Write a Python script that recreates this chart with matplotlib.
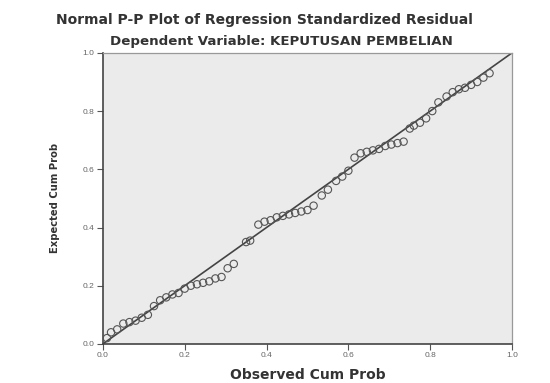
import matplotlib
matplotlib.use("Agg")
import matplotlib.pyplot as plt

plt.rcParams['font.family'] = ['Liberation Sans', 'DejaVu Sans']

title_lines = ["Normal P-P Plot of Regression Standardized Residual",
               "Dependent Variable: KEPUTUSAN PEMBELIAN"]
x_label = "Observed Cum Prob"
y_label = "Expected Cum Prob"
ticks = [0.0, 0.2, 0.4, 0.6, 0.8, 1.0]
tick_labels = ["0.0", "0.2", "0.4", "0.6", "0.8", "1.0"]

observed = [0.01, 0.02, 0.035, 0.05, 0.065, 0.08, 0.095, 0.11, 0.125, 0.14,
            0.155, 0.17, 0.185, 0.2, 0.215, 0.23, 0.245, 0.26, 0.275, 0.29,
            0.305, 0.32, 0.35, 0.36, 0.38, 0.395, 0.41, 0.425, 0.44, 0.455,
            0.47, 0.485, 0.5, 0.515, 0.535, 0.55, 0.57, 0.585, 0.6, 0.615,
            0.63, 0.645, 0.66, 0.675, 0.69, 0.705, 0.72, 0.735, 0.75, 0.76,
            0.775, 0.79, 0.805, 0.82, 0.84, 0.855, 0.87, 0.885, 0.9, 0.915,
            0.93, 0.945]
expected = [0.02, 0.04, 0.05, 0.07, 0.075, 0.08, 0.09, 0.1, 0.13, 0.15,
            0.16, 0.17, 0.175, 0.19, 0.2, 0.205, 0.21, 0.215, 0.225, 0.23,
            0.26, 0.275, 0.35, 0.355, 0.41, 0.42, 0.425, 0.435, 0.44, 0.445,
            0.45, 0.455, 0.46, 0.475, 0.51, 0.53, 0.56, 0.575, 0.595, 0.64,
            0.655, 0.66, 0.665, 0.67, 0.68, 0.685, 0.69, 0.695, 0.74, 0.75,
            0.76, 0.775, 0.80, 0.83, 0.85, 0.865, 0.875, 0.88, 0.89, 0.9,
            0.915, 0.93]
ref_line = [0.0, 1.0]

bold_font = ['DejaVu Sans']

fig = plt.figure(figsize=(5.5, 3.83), dpi=100, facecolor='white')
ax = fig.add_axes([0.187, 0.102, 0.744, 0.760])
ax.set_facecolor('#ebebeb')

ax.plot(ref_line, ref_line, color='#444444', lw=1.2, zorder=2)
ax.scatter(observed, expected, s=28, facecolors='none', edgecolors='#555555',
           linewidths=0.8, zorder=3)

ax.set_xlim(0, 1)
ax.set_ylim(0, 1)
ax.set_xticks(ticks)
ax.set_xticklabels(tick_labels)
ax.set_yticks(ticks)
ax.set_yticklabels(tick_labels)
ax.tick_params(direction='out', length=4, width=0.8, colors='#555555',
               labelsize=6, labelcolor='#666666', pad=2)
for side in ['left', 'bottom']:
    ax.spines[side].set_color('#444444')
    ax.spines[side].set_linewidth(1.2)
for side in ['right', 'top']:
    ax.spines[side].set_color('#999999')
    ax.spines[side].set_linewidth(0.9)

ax.set_xlabel(x_label, fontsize=10, fontweight='bold', color='#333333',
              labelpad=6, family=bold_font)
ax.set_ylabel(y_label, fontsize=7.2, fontweight='bold', color='#333333',
              labelpad=16, family=bold_font)

fig.text(264 / 550, 1 - 20 / 383, title_lines[0], ha='center', va='center',
         fontsize=10, fontweight='bold', color='#333333', family=bold_font)
fig.text(281 / 550, 1 - 42 / 383, title_lines[1], ha='center', va='center',
         fontsize=9.6, fontweight='bold', color='#333333', family=bold_font)

fig.savefig("out.png", dpi=100, facecolor='white')
